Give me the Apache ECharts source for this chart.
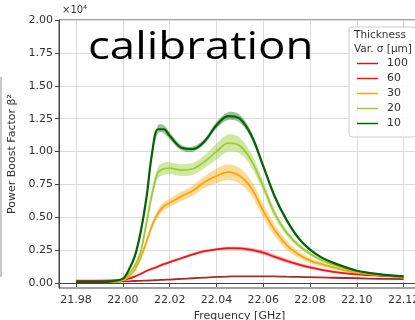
<!DOCTYPE html>
<html><head><meta charset="utf-8">
<script src="https://cdn.jsdelivr.net/npm/echarts@6/dist/echarts.min.js"></script>
<style>html,body{margin:0;padding:0;background:#fff}#c{width:415px;height:320px}</style>
</head><body><div id="c"></div>
<script>
// Frequency [GHz]
const freq = [21.980,21.990,21.995,22.000,22.0025,22.005,22.0075,22.010,22.0125,22.015,22.0175,22.020,22.025,22.030,22.035,22.040,22.045,22.050,22.055,22.060,22.065,22.070,22.075,22.080,22.085,22.090,22.100,22.110,22.120];
// Power boost factor (x1e4) per thickness variation sigma [um]
const boost100 = [0.010,0.011,0.012,0.014,0.015,0.017,0.018,0.020,0.022,0.024,0.026,0.028,0.033,0.038,0.043,0.048,0.051,0.053,0.053,0.053,0.052,0.050,0.048,0.046,0.044,0.042,0.038,0.034,0.031];
const boost60  = [0.020,0.020,0.021,0.026,0.035,0.050,0.070,0.093,0.110,0.127,0.145,0.160,0.190,0.220,0.244,0.258,0.266,0.265,0.254,0.232,0.200,0.170,0.143,0.120,0.102,0.087,0.068,0.057,0.050];
const boost30  = [0.008,0.008,0.010,0.022,0.050,0.100,0.190,0.310,0.440,0.530,0.585,0.610,0.660,0.705,0.770,0.815,0.845,0.815,0.720,0.550,0.400,0.290,0.220,0.172,0.145,0.120,0.080,0.060,0.050];
const boost20  = [0.010,0.010,0.013,0.030,0.070,0.130,0.230,0.450,0.680,0.840,0.870,0.875,0.860,0.870,0.925,1.000,1.065,1.045,0.930,0.735,0.525,0.385,0.290,0.225,0.175,0.140,0.090,0.065,0.052];
const boost10  = [0.010,0.010,0.015,0.035,0.100,0.200,0.380,0.640,0.990,1.170,1.170,1.120,1.030,1.020,1.080,1.200,1.270,1.250,1.120,0.890,0.655,0.480,0.345,0.255,0.195,0.155,0.095,0.068,0.053];
// Half-widths of the shaded uncertainty bands (x1e4)
const spread60 = [0.003,0.003,0.003,0.004,0.005,0.006,0.007,0.008,0.009,0.010,0.010,0.010,0.010,0.010,0.010,0.010,0.010,0.012,0.014,0.016,0.016,0.015,0.014,0.012,0.010,0.008,0.006,0.005,0.004];
const spread30 = [0.002,0.002,0.003,0.004,0.006,0.010,0.015,0.020,0.025,0.030,0.030,0.030,0.035,0.040,0.045,0.055,0.060,0.060,0.055,0.050,0.045,0.035,0.025,0.020,0.015,0.012,0.008,0.005,0.004];
const spread20 = [0.003,0.003,0.003,0.005,0.008,0.012,0.020,0.030,0.040,0.045,0.045,0.045,0.045,0.045,0.050,0.060,0.065,0.060,0.050,0.040,0.030,0.022,0.016,0.012,0.010,0.008,0.006,0.004,0.003];
const spread10 = [0.003,0.003,0.003,0.004,0.006,0.010,0.015,0.020,0.025,0.030,0.030,0.025,0.020,0.020,0.020,0.025,0.030,0.030,0.025,0.020,0.015,0.012,0.010,0.008,0.006,0.005,0.004,0.003,0.003];
const sigmaNames = ['100','60','30','20','10'];
const xTicks = [21.98,22.00,22.02,22.04,22.06,22.08,22.10,22.12];
const yTicks = [0,0.25,0.5,0.75,1.0,1.25,1.5,1.75,2.0];

const colors = {'100':'#a52a2a','60':'#ff1010','30':'#ffa500','20':'#9acd32','10':'#006400'};
const bandColors = {'60':'rgba(255,16,16,0.3)','30':'rgba(255,165,0,0.4)','20':'rgba(154,205,50,0.45)','10':'rgba(0,100,0,0.4)'};
const values = {'100':boost100,'60':boost60,'30':boost30,'20':boost20,'10':boost10};
const spreads = {'60':spread60,'30':spread30,'20':spread20,'10':spread10};

const series = [];
sigmaNames.forEach(function(n){
  const v = values[n], s = spreads[n];
  if (s) {
    series.push({type:'custom', silent:true, coordinateSystem:'cartesian2d', z:1,
      data: freq.map(function(f,i){return [f, v[i]];}),
      renderItem: function(params, api){
        if (params.dataIndex !== 0) return null;
        const pts = [];
        for (let i=0;i<freq.length;i++) pts.push(api.coord([freq[i], v[i]+s[i]]));
        for (let i=freq.length-1;i>=0;i--) pts.push(api.coord([freq[i], v[i]-s[i]]));
        return {type:'polygon', shape:{points:pts, smooth:0.35}, style:{fill:bandColors[n], stroke:null}};
      }});
  }
  series.push({name:n, type:'line', symbol:'none', smooth:0.35, z:2,
    lineStyle:{color:colors[n], width: n==='10'?2.2:1.8}, itemStyle:{color:colors[n]},
    data: freq.map(function(f,i){return [f, v[i]];})});
});

const font = 'DejaVu Sans';
const chart = echarts.init(document.getElementById('c'), null, {renderer:'canvas'});
chart.setOption({
  animation:false,
  backgroundColor:'#fff',
  grid:{left:59, right:-5, top:20, bottom:32, show:true, borderColor:'#444', borderWidth:1,
    outerBoundsMode:'none', containLabel:false},
  xAxis:{type:'value', min:21.9727, max:22.127,
    name:'Frequency [GHz]', nameLocation:'middle', nameGap:20,
    nameTextStyle:{fontFamily:font, fontSize:11, color:'#333'},
    axisLine:{lineStyle:{color:'#444'}},
    axisTick:{show:true, inside:false, length:4, customValues:xTicks, lineStyle:{color:'#444'}},
    axisLabel:{customValues:xTicks, margin:7, fontFamily:font, fontSize:11, color:'#333',
      formatter:function(v){return v.toFixed(2);}},
    splitLine:{show:true, lineStyle:{color:'#dcdcdc', width:1}}
  },
  yAxis:{type:'value', min:-0.036, max:2.0,
    name:'Power Boost Factor β²', nameLocation:'middle', nameGap:41, nameRotate:90,
    nameTextStyle:{fontFamily:font, fontSize:11, color:'#333'},
    axisLine:{show:true, lineStyle:{color:'#444'}},
    axisTick:{show:true, inside:false, length:4, customValues:yTicks, lineStyle:{color:'#444'}},
    axisLabel:{customValues:yTicks, margin:6, fontFamily:font, fontSize:11, color:'#333',
      formatter:function(v){return v.toFixed(2);}},
    splitLine:{show:true, lineStyle:{color:'#dcdcdc', width:1}}
  },
  legend:{data:['100','60','30','20','10'], orient:'vertical', left:349, top:27,
    padding:[31,8,8,8], itemGap:4, itemWidth:21, itemHeight:11, icon:'path://M0,5 L21,5 L21,6.5 L0,6.5 Z',
    textStyle:{fontFamily:font, fontSize:11, color:'#333', padding:[0,0,0,4]},
    backgroundColor:'rgba(255,255,255,0.85)', borderColor:'#cccccc', borderWidth:1, borderRadius:3},
  graphic:[
    {type:'text', left:62, top:5, z:10, style:{text:'×10⁴', fontFamily:font, fontSize:10, fill:'#333'}},
    {type:'text', left:354, top:30, z:100, style:{text:'Thickness', fontFamily:font, fontSize:10.5, fill:'#333'}},
    {type:'text', left:354, top:44, z:100, style:{text:'Var. σ [μm]', fontFamily:font, fontSize:10.5, fill:'#333'}},
    {type:'text', left:88, top:28, z:100, scaleX:1.17, style:{text:'calibration', fontFamily:'Open Sans', fontSize:39, fill:'#000'}},
    {type:'rect', left:0, top:77, z:0, shape:{width:2, height:200}, style:{fill:'#c8c8c8'}}
  ],
  series: series
});
</script></body></html>
